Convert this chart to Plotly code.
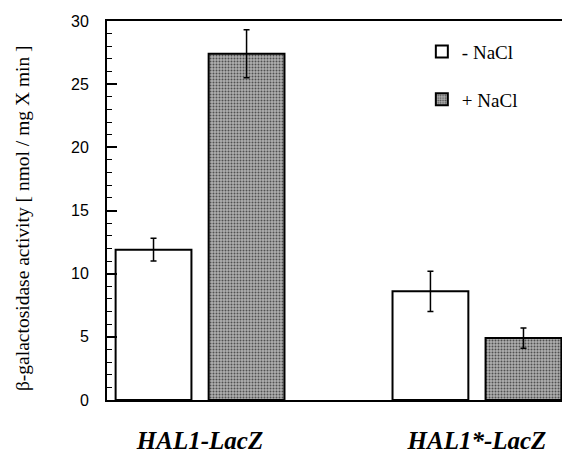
import plotly.graph_objects as go

categories = ["HAL1-LacZ", "HAL1*-LacZ"]
tick_labels = ["<b><i>HAL1-LacZ</i></b>", "<b><i>HAL1*-LacZ</i></b>"]
minus_nacl = [11.9, 8.6]
minus_err = [0.9, 1.6]
plus_nacl = [27.4, 4.9]
plus_err = [1.9, 0.8]
series_names = ["- NaCl", "+ NaCl"]

serif = "Liberation Serif, Times New Roman, serif"
sans = "Liberation Sans, Arial, sans-serif"

fig = go.Figure()
fig.add_trace(go.Bar(
    x=categories, y=minus_nacl, name=series_names[0], legendgroup="a",
    marker=dict(color="white", line=dict(color="black", width=2)),
    error_y=dict(type="data", array=minus_err, color="black", thickness=1.5, width=3),
))
fig.add_trace(go.Bar(
    x=categories, y=plus_nacl, name=series_names[1], legendgroup="b",
    marker=dict(color="#a4a4a4", line=dict(color="black", width=2),
                pattern=dict(shape=".", fgcolor="#505050", bgcolor="#b0b0b0",
                             size=3, solidity=0.35, fillmode="replace")),
    error_y=dict(type="data", array=plus_err, color="black", thickness=1.5, width=3),
))

# the page body adds an 8px offset; margins compensate for it
fig.update_layout(
    width=570, height=458,
    margin=dict(l=99, r=8, t=13, b=66),
    paper_bgcolor="white", plot_bgcolor="white",
    barmode="group", bargap=0.328, bargroupgap=0.185,
    showlegend=True,
    legend=dict(x=0.68, y=0.969, xanchor="left", yanchor="top",
                font=dict(family=serif, size=19, color="black"),
                bgcolor="rgba(0,0,0,0)", tracegroupgap=20),
    xaxis=dict(range=[-0.336, 1.336], tickmode="array", tickvals=categories,
               ticktext=tick_labels, showline=True, linecolor="black", linewidth=2,
               mirror=True, ticks="", ticklabelstandoff=17, automargin=False,
               tickfont=dict(family=serif, size=25, color="black"), showgrid=False),
    yaxis=dict(range=[0, 30], tickmode="linear", tick0=0, dtick=5,
               showline=True, linecolor="black", linewidth=2, automargin=False,
               ticks="inside", ticklen=10, tickwidth=1.5, tickcolor="black",
               minor=dict(ticks="inside", ticklen=5, dtick=1, tickcolor="black", tickwidth=1),
               ticklabelstandoff=13,
               tickfont=dict(family=sans, size=16, color="black"),
               showgrid=False, zeroline=False),
    annotations=[dict(
        text="β-galactosidase activity [ nmol / mg X min ]",
        xref="paper", yref="paper", x=(22 - 107) / 463, y=0.48,
        xanchor="center", yanchor="middle", textangle=-90, showarrow=False,
        font=dict(family=serif, size=19.5, color="black"),
    )],
)

fig.write_html("out.html")
